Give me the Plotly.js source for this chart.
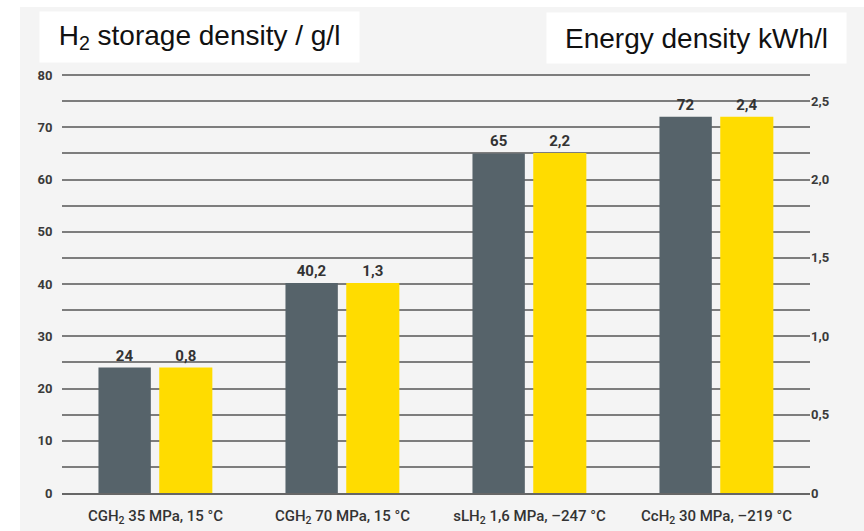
<!DOCTYPE html>
<html>
<head>
<meta charset="utf-8">
<script src="https://cdn.plot.ly/plotly-3.0.1.min.js"></script>
<style>html,body{margin:0;padding:0;background:#fff;}#chart{width:864px;height:531px;}</style>
</head>
<body>
<div id="chart"></div>
<script>
// ---- data ----
const categories = [
  "CGH<sub>2</sub> 35 MPa, 15 °C",
  "CGH<sub>2</sub> 70 MPa, 15 °C",
  "sLH<sub>2</sub> 1,6 MPa, –247 °C",
  "CcH<sub>2</sub> 30 MPa, –219 °C"
];
const storageDensity = [24, 40.2, 65, 72];          // g/l (left axis)
const storageLabels = ["24", "40,2", "65", "72"];
const energyDensity = [0.8, 1.34, 2.17, 2.4];       // kWh/l (right axis), bar heights as drawn
const energyLabels = ["0,8", "1,3", "2,2", "2,4"];
const leftTicks = [0, 10, 20, 30, 40, 50, 60, 70, 80];
const leftMinorTicks = [5, 15, 25, 35, 45, 55, 65, 75];
const rightTickVals = [0, 0.5, 1.0, 1.5, 2.0, 2.5];
const rightTickText = ["0", "0,5", "1,0", "1,5", "2,0", "2,5"];
const leftTitle = "H<sub>2</sub> storage density / g/l";
const rightTitle = "Energy density kWh/l";

const labelFont = {family: "Roboto, 'Liberation Sans', sans-serif", size: 15, color: '#333', weight: 700};

const traces = [
  {
    type: 'bar', x: categories, y: storageDensity, xaxis: 'x', yaxis: 'y',
    marker: {color: '#56636a'}, offset: -0.305, width: 0.28,
    text: storageLabels, textposition: 'outside', textfont: labelFont,
    cliponaxis: false, hoverinfo: 'skip', showlegend: false
  },
  {
    type: 'bar', x: categories, y: energyDensity, xaxis: 'x', yaxis: 'y2',
    marker: {color: '#ffdc00'}, offset: 0.02, width: 0.284,
    text: energyLabels, textposition: 'outside', textfont: labelFont,
    cliponaxis: false, hoverinfo: 'skip', showlegend: false
  }
];

const tickFont = {family: "Roboto, 'Liberation Sans', sans-serif", size: 13, color: '#3a3a3a', weight: 700};
const gridColor = '#7d7d7d';
const yTop = 80.2;

const layout = {
  width: 864, height: 531,
  margin: {l: 62, r: 54, t: 74, b: 38, pad: 0},
  paper_bgcolor: '#ffffff',
  plot_bgcolor: 'rgba(0,0,0,0)',
  showlegend: false,
  xaxis: {
    type: 'category', showgrid: false, zeroline: false,
    showline: true, linecolor: '#666666', linewidth: 2,
    ticks: 'outside', ticklen: 8, tickcolor: 'rgba(0,0,0,0)',
    tickfont: {family: "Roboto, 'Liberation Sans', sans-serif", size: 15, color: '#333333', weight: 500},
    range: [-0.5, 3.5], fixedrange: true
  },
  xaxis2: {
    overlaying: 'x', anchor: 'y', side: 'bottom', type: 'linear', range: [-0.5, 3.5],
    tickvals: [0.5, 1.5, 2.5], ticks: 'outside', ticklen: 7, tickwidth: 2, tickcolor: '#666666',
    showticklabels: false, showgrid: false, zeroline: false, showline: false
  },
  yaxis: {
    range: [0, yTop], tickvals: leftTicks, ticktext: leftTicks.map(String),
    showgrid: true, gridcolor: gridColor, gridwidth: 2, zeroline: false,
    ticks: 'outside', ticklen: 6, tickcolor: 'rgba(0,0,0,0)', tickfont: tickFont,
    minor: {tickvals: leftMinorTicks, showgrid: true, gridcolor: gridColor, gridwidth: 2},
    showline: false, fixedrange: true
  },
  yaxis2: {
    overlaying: 'y', side: 'right', anchor: 'x',
    range: [0, yTop / 30], tickvals: rightTickVals, ticktext: rightTickText,
    showgrid: false, zeroline: false, showline: false, ticks: '', tickfont: tickFont,
    fixedrange: true
  },
  shapes: [{
    type: 'rect', xref: 'paper', yref: 'paper', layer: 'below',
    x0: -0.0561, x1: 1.08, y0: -0.1, y1: 1.1599,
    fillcolor: '#f4f4f4', line: {width: 0}
  }],
  annotations: [
    {
      xref: 'paper', yref: 'paper', x: 0.1838, y: 1.0883, xanchor: 'center', yanchor: 'middle',
      text: leftTitle, showarrow: false, bgcolor: '#ffffff', borderpad: 0,
      width: 319, height: 50, align: 'center',
      font: {family: "'Liberation Sans', Arial, sans-serif", size: 28, color: '#111'}
    },
    {
      xref: 'paper', yref: 'paper', x: 0.8483, y: 1.0859, xanchor: 'center', yanchor: 'middle',
      text: rightTitle, showarrow: false, bgcolor: '#ffffff', borderpad: 0,
      width: 299, height: 50, align: 'center',
      font: {family: "'Liberation Sans', Arial, sans-serif", size: 28, color: '#111'}
    }
  ]
};

Plotly.newPlot('chart', traces, layout, {displayModeBar: false, staticPlot: true});
</script>
</body>
</html>
